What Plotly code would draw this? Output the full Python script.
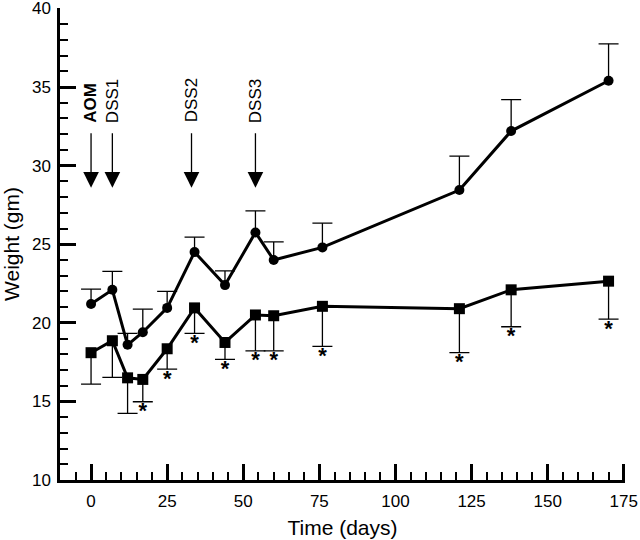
import plotly.graph_objects as go

days = [0, 7, 12, 17, 25, 34, 44, 54, 60, 76, 121, 138, 170]
ctrl_mean = [21.2, 22.1, 18.6, 19.4, 20.95, 24.5, 22.4, 25.75, 24.0, 24.8, 28.45, 32.2, 35.4]
ctrl_err = [0.95, 1.17, 0.73, 1.47, 1.05, 0.95, 0.9, 1.37, 1.15, 1.54, 2.15, 2.0, 2.35]
trt_mean = [18.1, 18.86, 16.5, 16.4, 18.35, 20.95, 18.75, 20.5, 20.45, 21.05, 20.9, 22.1, 22.65]
trt_err = [2.0, 2.33, 2.26, 1.42, 1.29, 1.62, 1.08, 2.28, 2.23, 2.55, 2.8, 2.35, 2.41]
signif = [0, 0, 0, 1, 1, 1, 1, 1, 1, 1, 1, 1, 1]

events = ["AOM", "DSS1", "DSS2", "DSS3"]
event_days = [0, 7, 33, 54]

x_ticks = [0, 25, 50, 75, 100, 125, 150, 175]
y_ticks = [10, 15, 20, 25, 30, 35, 40]

FONT = "Liberation Sans, Arial, Helvetica, sans-serif"

fig = go.Figure()
zeros = [0] * len(days)

ctrl_top = [m + e for m, e in zip(ctrl_mean, ctrl_err)]
trt_bot = [m - e for m, e in zip(trt_mean, trt_err)]

# caps only at the far end of each error bar
for ys in (ctrl_top, trt_bot):
    fig.add_trace(go.Scatter(
        x=days, y=ys, mode="markers",
        marker=dict(size=1, color="rgba(0,0,0,0)"),
        error_y=dict(type="data", symmetric=False, array=zeros, arrayminus=zeros,
                     color="black", thickness=1.3, width=10),
        showlegend=False, hoverinfo="skip",
    ))

fig.add_trace(go.Scatter(
    x=days, y=ctrl_mean, mode="lines+markers",
    line=dict(color="black", width=3),
    marker=dict(symbol="circle", size=10, color="black"),
    error_y=dict(type="data", symmetric=False, array=ctrl_err,
                 arrayminus=zeros, color="black", thickness=1.3, width=0),
    showlegend=False,
))

fig.add_trace(go.Scatter(
    x=days, y=trt_mean, mode="lines+markers",
    line=dict(color="black", width=3),
    marker=dict(symbol="square", size=11, color="black"),
    error_y=dict(type="data", symmetric=False, array=zeros,
                 arrayminus=trt_err, color="black", thickness=1.3, width=0),
    showlegend=False,
))

star_x = [d for d, s in zip(days, signif) if s]
star_y = [b for b, s in zip(trt_bot, signif) if s]
fig.add_trace(go.Scatter(
    x=star_x, y=star_y, mode="text", text=["<b>*</b>"] * len(star_x),
    textposition="bottom center",
    textfont=dict(family=FONT, size=22, color="black"),
    showlegend=False, hoverinfo="skip",
))

for name, d in zip(events, event_days):
    fig.add_annotation(
        x=d, y=28.6, xref="x", yref="y",
        ax=0, ay=-56, axref="pixel", ayref="pixel",
        showarrow=True, arrowhead=2, arrowsize=2.4, arrowwidth=1.3,
        arrowcolor="black", text="",
    )
    fig.add_annotation(
        x=d, y=32.6, xref="x", yref="y", showarrow=False,
        text=("<b>%s</b>" % name) if name == "AOM" else name,
        textangle=-90, xanchor="center", yanchor="bottom",
        font=dict(family=FONT, size=17, color="black"),
    )

axis_common = dict(
    showline=True, linecolor="black", linewidth=2.5,
    ticks="inside", ticklen=16, tickwidth=2.5, tickcolor="black",
    showgrid=False, zeroline=False, mirror=False, automargin=False,
    ticklabeloverflow="allow",
    tickfont=dict(family=FONT, size=17, color="black"),
)

fig.update_xaxes(
    range=[-10.2, 175.4], tickmode="array", tickvals=x_ticks,
    ticklabelstandoff=4,
    title=dict(text="Time (days)", font=dict(family=FONT, size=21, color="black"), standoff=11),
    minor=dict(ticks="inside", ticklen=8, tickwidth=2, tickcolor="black", dtick=5, tick0=0),
    **axis_common,
)
fig.update_yaxes(
    range=[10, 40.03], tickmode="array", tickvals=y_ticks,
    ticklabelstandoff=3,
    title=dict(text="Weight (gm)", font=dict(family=FONT, size=21, color="black"), standoff=10),
    minor=dict(ticks="inside", ticklen=8, tickwidth=2, tickcolor="black", dtick=1, tick0=10),
    **axis_common,
)

fig.update_layout(
    width=640, height=540,
    margin=dict(l=60, r=15, t=8, b=60),
    plot_bgcolor="white", paper_bgcolor="white",
    font=dict(family=FONT, color="black"),
)

fig.write_html("out.html", config={"displayModeBar": False},
               post_script="document.body.style.margin='0';document.body.style.overflow='hidden';")
